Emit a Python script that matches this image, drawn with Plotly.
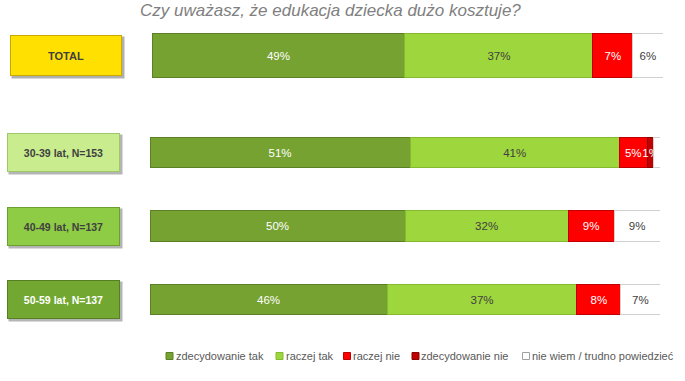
import plotly.graph_objects as go

W, H = 685, 381

title = "Czy uważasz, że edukacja dziecka dużo kosztuje?"
series = ["zdecydowanie tak", "raczej tak", "raczej nie", "zdecydowanie nie", "nie wiem / trudno powiedzieć"]

total_cat = ["TOTAL"]
total_vals = {
    "zdecydowanie tak": [49.5],
    "raczej tak": [36.8],
    "raczej nie": [7.8],
    "zdecydowanie nie": [0],
    "nie wiem / trudno powiedzieć": [5.9],
}
total_text = {
    "zdecydowanie tak": ["49%"],
    "raczej tak": ["37%"],
    "raczej nie": ["7%"],
    "zdecydowanie nie": [""],
    "nie wiem / trudno powiedzieć": ["6%"],
}

groups = ["30-39 lat, N=153", "40-49 lat, N=137", "50-59 lat, N=137"]
group_vals = {
    "zdecydowanie tak": [51, 50, 46.5],
    "raczej tak": [41, 32, 37.2],
    "raczej nie": [5.5, 9, 8.6],
    "zdecydowanie nie": [1.3, 0, 0],
    "nie wiem / trudno powiedzieć": [1.2, 9, 7.7],
}
group_text = {
    "zdecydowanie tak": ["51%", "50%", "46%"],
    "raczej tak": ["41%", "32%", "37%"],
    "raczej nie": ["5%", "9%", "8%"],
    "zdecydowanie nie": ["1%", "", ""],
    "nie wiem / trudno powiedzieć": ["", "9%", "7%"],
}

colors = {
    "zdecydowanie tak": "#76A231",
    "raczej tak": "#9ED63D",
    "raczej nie": "#FF0000",
    "zdecydowanie nie": "#C00000",
    "nie wiem / trudno powiedzieć": "#FFFFFF",
}
borders = {
    "zdecydowanie tak": "#5C8025",
    "raczej tak": "#86BA2E",
    "raczej nie": "#C00000",
    "zdecydowanie nie": "#8B0000",
    "nie wiem / trudno powiedzieć": "#D0D0D0",
}
textcol = {
    "zdecydowanie tak": "#FFFFFF",
    "raczej tak": "#404040",
    "raczej nie": "#FFFFFF",
    "zdecydowanie nie": "#FFFFFF",
    "nie wiem / trudno powiedzieć": "#404040",
}

FONT = "Liberation Sans, Arial, sans-serif"

def fy(px):
    return 1 - px / H

def fx(px):
    return px / W

fig = go.Figure()

for s in series:
    fig.add_trace(go.Bar(
        y=total_cat, x=total_vals[s], orientation="h", name=s,
        text=total_text[s], textposition="inside", insidetextanchor="middle",
        constraintext="none", textangle=0,
        textfont=dict(family=FONT, size=11.5, color=textcol[s]),
        marker=dict(color=colors[s], line=dict(color=borders[s], width=1)),
        width=0.61, xaxis="x", yaxis="y", showlegend=False,
    ))

for s in series:
    fig.add_trace(go.Bar(
        y=groups, x=group_vals[s], orientation="h", name=s,
        text=group_text[s], textposition="inside", insidetextanchor="middle",
        constraintext="none", textangle=0,
        textfont=dict(family=FONT, size=11.5, color=textcol[s]),
        marker=dict(color=colors[s], line=dict(color=borders[s], width=1)),
        width=0.41, xaxis="x2", yaxis="y2", showlegend=False,
    ))

# category boxes
box_fill = ["#C8EC8E", "#8FCC45", "#72A832"]
box_line = ["#9CC868", "#6C9F30", "#557F22"]
box_font = ["#404040", "#404040", "#FFFFFF"]

annotations = []
shapes = []
annotations.append(dict(x=fx(68), y=total_cat[0], xref="paper", yref="y", text="",
                        xanchor="center", yanchor="middle",
                        showarrow=False, width=112, height=41, bgcolor="#B0B0B0",
                        xshift=0, yshift=-2, borderpad=0))
annotations.append(dict(x=fx(66), y=total_cat[0], xref="paper", yref="y",
                        text="<b>" + total_cat[0] + "</b>", showarrow=False,
                        xanchor="center", yanchor="middle",
                        width=110, height=39, bgcolor="#FFE000", bordercolor="#C9A800",
                        borderwidth=1, borderpad=0,
                        font=dict(family=FONT, size=11, color="#404040")))
for i, g in enumerate(groups):
    annotations.append(dict(x=fx(65.5), y=g, xref="paper", yref="y2", text="",
                            xanchor="center", yanchor="middle",
                            showarrow=False, width=113, height=39, bgcolor="#B5B5B5",
                            yshift=-2, borderpad=0))
    annotations.append(dict(x=fx(63.5), y=g, xref="paper", yref="y2",
                            text="<b>" + g + "</b>", showarrow=False,
                            xanchor="center", yanchor="middle",
                            width=111, height=37, bgcolor=box_fill[i], bordercolor=box_line[i],
                            borderwidth=1, borderpad=0,
                            font=dict(family=FONT, size=10.5, color=box_font[i])))

annotations.append(dict(x=fx(330), y=fy(11), xref="paper", yref="paper", text="<i>" + title + "</i>",
                        showarrow=False, xanchor="center", yanchor="middle",
                        font=dict(family=FONT, size=17, color="#808080")))

# legend (drawn manually to match the compact original)
leg_x = [166, 276, 343.5, 412, 522.5]
leg_y = 356
for s, lx in zip(series, leg_x):
    shapes.append(dict(type="rect", xref="paper", yref="paper",
                       x0=fx(lx), x1=fx(lx + 7), y0=fy(leg_y + 3.5), y1=fy(leg_y - 3.5),
                       fillcolor=colors[s], line=dict(color=borders[s] if s != series[-1] else "#A0A0A0", width=1)))
    annotations.append(dict(x=fx(lx + 7.5), y=fy(leg_y), xref="paper", yref="paper", text=s,
                            showarrow=False, xanchor="left", yanchor="middle",
                            font=dict(family=FONT, size=11, color="#595959")))

fig.update_layout(
    width=W, height=H,
    margin=dict(l=0, r=0, t=0, b=0),
    paper_bgcolor="white", plot_bgcolor="white",
    barmode="stack",
    annotations=annotations,
    shapes=shapes,
    xaxis=dict(domain=[fx(152), fx(663)], range=[0, 100], visible=False, anchor="y"),
    yaxis=dict(domain=[fy(92.25), fy(18.75)], visible=False, anchor="x",
               categoryorder="array", categoryarray=total_cat),
    xaxis2=dict(domain=[fx(150), fx(660)], range=[0, 100], visible=False, anchor="y2"),
    yaxis2=dict(domain=[fy(336.25), fy(115.75)], visible=False, anchor="x2",
                categoryorder="array", categoryarray=groups, autorange="reversed"),
    showlegend=False,
)

fig.write_html("out.html")
